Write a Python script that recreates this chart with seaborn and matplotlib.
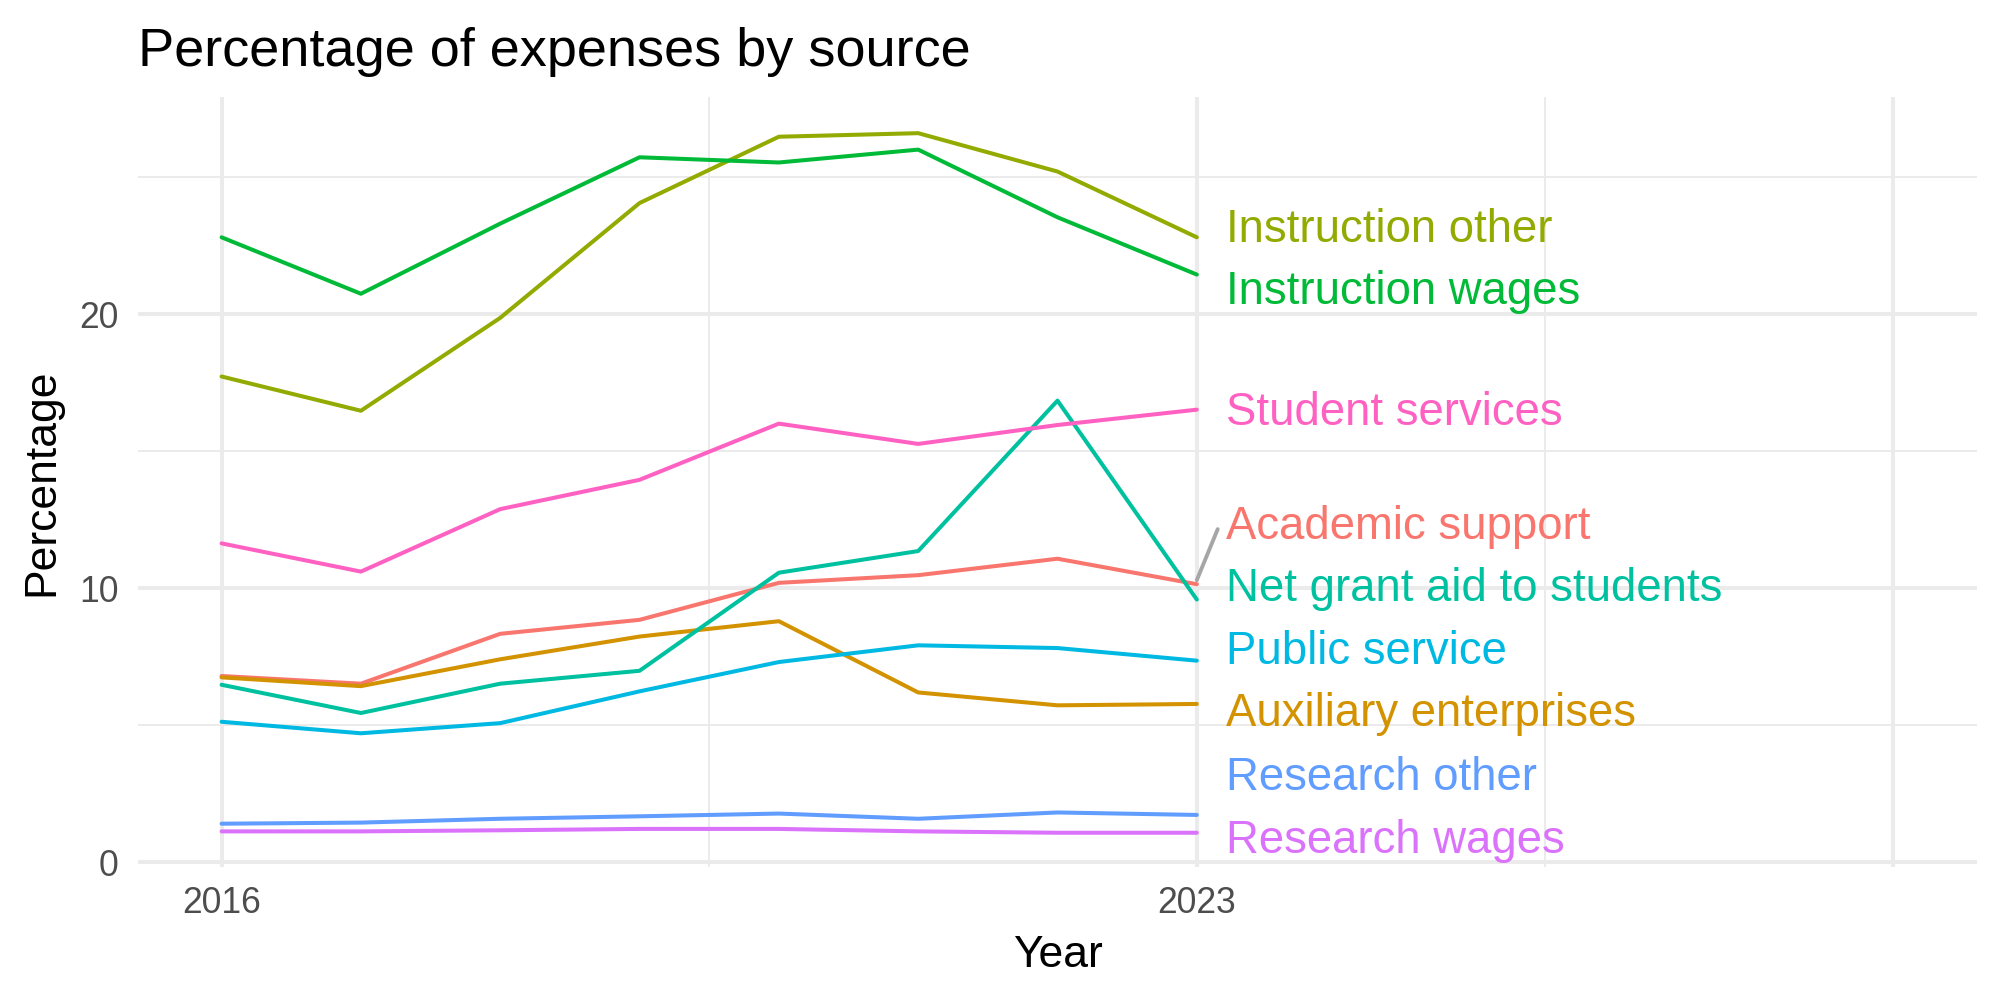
import matplotlib.pyplot as plt
import seaborn as sns
import numpy as np
import pandas as pd

# Data
years = list(range(2016, 2024))

academic_support = [6.79, 6.51, 8.33, 8.84, 10.19, 10.47, 11.07, 10.14]
auxiliary_enterprises = [6.74, 6.42, 7.40, 8.23, 8.79, 6.19, 5.72, 5.77]
instruction_other = [17.72, 16.47, 19.86, 24.05, 26.47, 26.60, 25.20, 22.80]
instruction_wages = [22.80, 20.74, 23.30, 25.72, 25.53, 26.00, 23.53, 21.44]
net_grant_aid = [6.47, 5.44, 6.51, 6.98, 10.56, 11.35, 16.84, 9.58]
public_service = [5.12, 4.70, 5.07, 6.23, 7.30, 7.91, 7.81, 7.35]
research_other = [1.40, 1.44, 1.58, 1.67, 1.77, 1.58, 1.81, 1.72]
research_wages = [1.12, 1.12, 1.16, 1.21, 1.21, 1.12, 1.07, 1.07]
student_services = [11.63, 10.60, 12.88, 13.95, 16.00, 15.26, 15.95, 16.51]

sources = ["Academic support", "Auxiliary enterprises", "Instruction other",
           "Instruction wages", "Net grant aid to students", "Public service",
           "Research other", "Research wages", "Student services"]
series = [academic_support, auxiliary_enterprises, instruction_other,
          instruction_wages, net_grant_aid, public_service,
          research_other, research_wages, student_services]

# label positions after repel (y in data units)
label_y = [12.24, 5.42, 23.05, 20.82, 9.98, 7.68, 3.08, 0.78, 16.40]
label_x = 2023.21

colors = ["#F8766D", "#D39200", "#93AA00", "#00BA38", "#00C19F",
          "#00B9E3", "#619CFF", "#DB72FB", "#FF61C3"]
palette = dict(zip(sources, colors))

df = pd.DataFrame({
    "Year": np.tile(years, len(sources)),
    "Percentage": np.concatenate(series),
    "Source": np.repeat(sources, len(years)),
})

sns.set_theme(style="white")
plt.rcParams["font.family"] = ["Liberation Sans", "DejaVu Sans"]

fig, ax = plt.subplots(figsize=(10, 5), dpi=200)
fig.subplots_adjust(left=0.069, right=0.9885, top=0.903, bottom=0.133)

sns.lineplot(data=df, x="Year", y="Percentage", hue="Source", palette=palette,
             linewidth=1.45, legend=False, ax=ax)

# end labels
for src, vals, ly in zip(sources, series, label_y):
    ax.text(label_x, ly, src, color=palette[src], fontsize=16.4,
            ha="left", va="center")

# repel segment for Academic support
ac_last = academic_support[-1]
ax.annotate("", xy=(2023.0, ac_last + 0.15), xytext=(2023.15, 12.15),
            arrowprops=dict(arrowstyle="-", color="#A6A6A6", lw=1.4,
                            shrinkA=0, shrinkB=0))

ax.set_xlim(2015.4, 2028.6)
ax.set_ylim(-0.18, 27.92)
ax.set_xticks([2016, 2023, 2028])
ax.set_xticklabels(["2016", "2023", ""])
ax.set_xticks([2019.5, 2025.5], minor=True)
ax.set_yticks([0, 10, 20])
ax.set_yticks([5, 15, 25], minor=True)

ax.grid(which="major", color="#EBEBEB", linewidth=1.45)
ax.grid(which="minor", color="#EBEBEB", linewidth=0.72)
ax.set_axisbelow(True)
ax.tick_params(which="both", length=0, labelsize=12.8, labelcolor="#4D4D4D")
ax.tick_params(axis="x", pad=7)
ax.tick_params(axis="y", pad=7)
for s in ax.spines.values():
    s.set_visible(False)

ax.set_xlabel("Year", fontsize=16, color="black", labelpad=5)
ax.set_ylabel("Percentage", fontsize=16, color="black", labelpad=6)
ax.set_title("Percentage of expenses by source", loc="left", fontsize=19.5,
             color="black", pad=11)

fig.savefig("out.png", dpi=200, facecolor="white")
